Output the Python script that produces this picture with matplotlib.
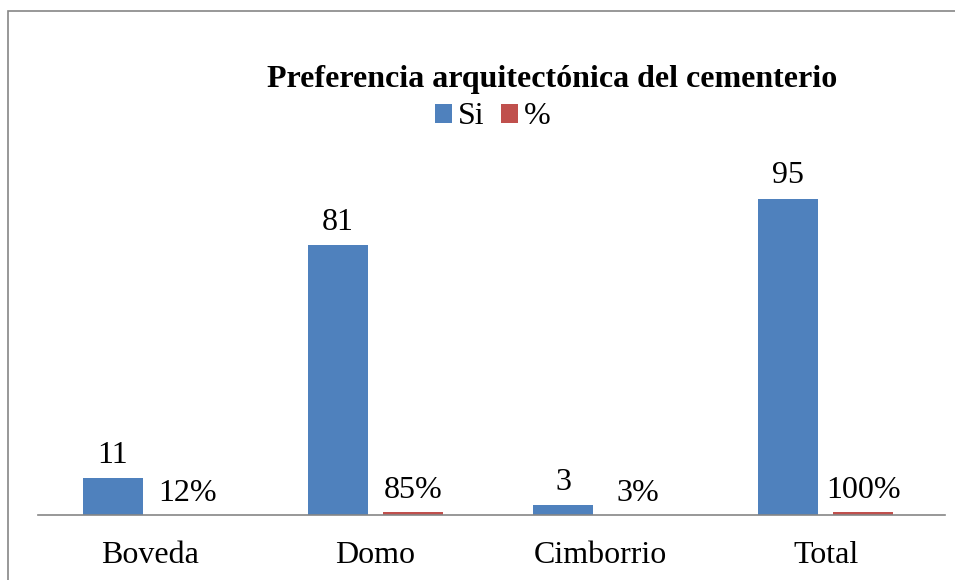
import matplotlib
matplotlib.use("Agg")
import matplotlib.pyplot as plt
from matplotlib.patches import Rectangle
import numpy as np

categories = ["Boveda", "Domo", "Cimborrio", "Total"]
si_values = [11, 81, 3, 95]
pct_values = [0.12, 0.85, 0.03, 1.00]
pct_labels = ["12%", "85%", "3%", "100%"]

plt.rcParams['font.family'] = ['Liberation Serif', 'DejaVu Serif']

W, H = 955, 580
fig = plt.figure(figsize=(W / 100, H / 100), dpi=100)

# outer chart frame
fig.patches.append(Rectangle((8 / W, -0.1), 1.2, 1 - 11 / H + 0.1,
                             transform=fig.transFigure, fill=False,
                             edgecolor="#868686", linewidth=1.2))

ax = fig.add_axes([38 / W, 1 - 515 / H, (945 - 38) / W, (515 - 182) / H])
x = np.arange(len(categories))
bw = 0.266
off = 0.1665
blue = "#4F81BD"
red = "#C0504D"
b1 = ax.bar(x - off, si_values, bw, color=blue, label="Si")
b2 = ax.bar(x + off, pct_values, bw, color=red, label="%")

ax.set_xlim(-0.499, 3.529)
ax.set_ylim(0, 100)
for s in ["top", "left", "right"]:
    ax.spines[s].set_visible(False)
ax.spines["bottom"].set_color("#868686")
ax.spines["bottom"].set_linewidth(1.2)
ax.set_yticks([])
ax.set_xticks(x)
ax.set_xticklabels(categories, fontsize=23)
ax.tick_params(axis="x", length=0, pad=19)

for xi, v in zip(x, si_values):
    ax.annotate(str(v), (xi - off, v), xytext=(0, 6), textcoords="offset points",
                ha="center", va="bottom", fontsize=23)
for xi, v, lab in zip(x, pct_values, pct_labels):
    ax.annotate(lab, (xi + off, v), xytext=(0, 5), textcoords="offset points",
                ha="center", va="bottom", fontsize=23)

fig.text(552 / W, 1 - 79 / H, "Preferencia arquitectónica del cementerio",
         ha="center", va="center", fontsize=23, fontweight="bold")

fig.legend(handles=[b1, b2], labels=["Si", "%"], loc="center",
           bbox_to_anchor=(493 / W, 1 - 117 / H), ncol=2, frameon=False,
           fontsize=23, handlelength=0.53, handleheight=0.53, handletextpad=0.2,
           columnspacing=0.5, borderpad=0, borderaxespad=0)

fig.savefig("out.png", dpi=100)
